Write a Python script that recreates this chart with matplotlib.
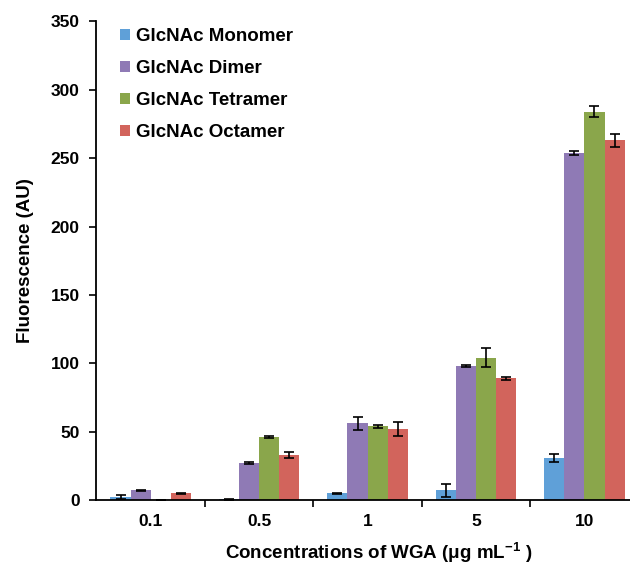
import numpy as np
import matplotlib
matplotlib.use("Agg")
import matplotlib.pyplot as plt

concentrations = ["0.1", "0.5", "1", "5", "10"]
series = ["GlcNAc Monomer", "GlcNAc Dimer", "GlcNAc Tetramer", "GlcNAc Octamer"]
monomer = [2, 0.5, 5, 7, 31]
monomer_err = [1.5, 0.3, 0.5, 5, 3]
dimer = [7, 27, 56, 98, 254]
dimer_err = [0.5, 1, 5, 1, 1.5]
tetramer = [0, 46, 54, 104, 284]
tetramer_err = [0, 0.7, 1, 7, 4]
octamer = [5, 33, 52, 89, 263]
octamer_err = [0.5, 2, 5, 1, 5]
colors = ["#5fa0d8", "#8f7ab5", "#8aa64b", "#d2645c"]

plt.rcParams["font.family"] = ["Liberation Sans", "DejaVu Sans"]
plt.rcParams["font.weight"] = "bold"
plt.rcParams["mathtext.fontset"] = "custom"
plt.rcParams["mathtext.rm"] = "Liberation Sans:bold"
plt.rcParams["mathtext.bf"] = "Liberation Sans:bold"
plt.rcParams["mathtext.default"] = "bf"

fig = plt.figure(figsize=(6.3, 5.65), dpi=100)
ax = fig.add_axes([0.153, 0.115, 0.847, 0.847])

x = np.arange(len(concentrations))
w = 0.185
vals = [monomer, dimer, tetramer, octamer]
errs = [monomer_err, dimer_err, tetramer_err, octamer_err]
for i, (v, e, c, lab) in enumerate(zip(vals, errs, colors, series)):
    pos = x + (i - 1.5) * w
    ax.bar(pos, v, width=w, color=c, label=lab, zorder=2)
    ax.errorbar(pos, v, yerr=e, fmt="none", ecolor="black", elinewidth=1.2,
                capsize=3.5, capthick=1.2, zorder=3)

ax.set_xlim(-0.5, 4.42)
ax.set_ylim(0, 350)
ax.set_yticks(np.arange(0, 351, 50))
ax.set_xticks(x)
ax.set_xticklabels(concentrations)
ax.set_xticks(np.arange(0.5, 4.0, 1), minor=True)
ax.tick_params(axis="x", which="major", length=0, pad=10)
ax.tick_params(axis="x", which="minor", length=5, width=1.2, direction="out")
ax.tick_params(axis="y", length=5, width=1.2, direction="out", pad=7)
for lbl in ax.get_xticklabels() + ax.get_yticklabels():
    lbl.set_fontsize(12.5)
    lbl.set_fontweight("bold")
for s in ["top", "right"]:
    ax.spines[s].set_visible(False)
for s in ["left", "bottom"]:
    ax.spines[s].set_linewidth(1.3)

ax.set_ylabel("Fluorescence (AU)", fontsize=13.5, fontweight="bold", labelpad=12)
ax.set_xlabel(r"Concentrations of WGA (μg mL$^{-1}$ )", fontsize=13.5,
              fontweight="bold", labelpad=6)
ax.xaxis.set_label_coords(0.528, -0.085)

ax.legend(loc="upper left", bbox_to_anchor=(0.012, 1.022), frameon=False,
          prop={"size": 13.5, "weight": "bold"}, handlelength=0.55,
          handleheight=0.55, handletextpad=0.3, labelspacing=0.8)

fig.savefig("out.png", dpi=100)
